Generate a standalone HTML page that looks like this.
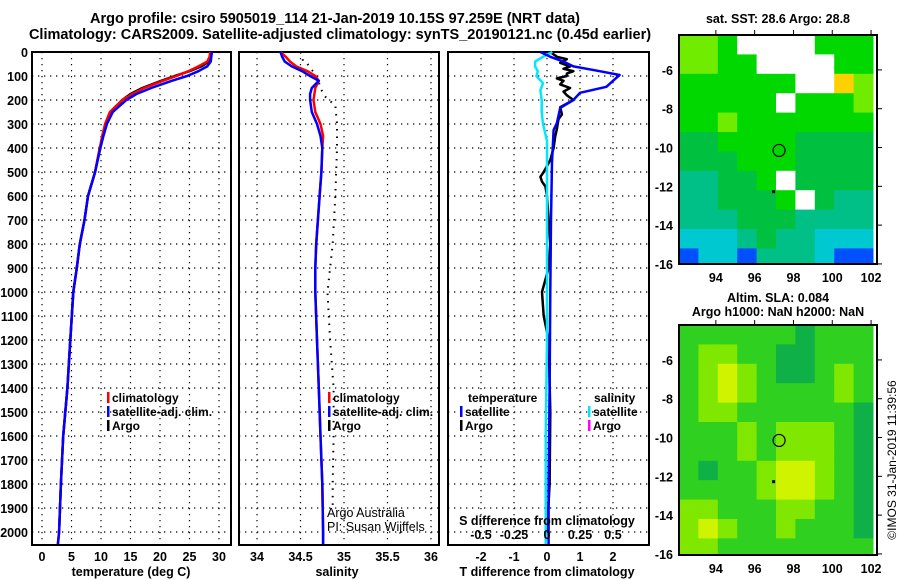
<!DOCTYPE html>
<html><head><meta charset="utf-8"><style>
html,body{margin:0;padding:0;background:#fff}
svg{display:block;font-family:"Liberation Sans",sans-serif;font-weight:bold}
</style></head><body>
<svg id="fig" width="900" height="580" viewBox="0 0 900 580" xmlns="http://www.w3.org/2000/svg">
<text x="335" y="23" text-anchor="middle" font-size="14.5">Argo profile: csiro 5905019_114 21-Jan-2019 10.15S 97.259E (NRT data)</text>
<text x="340" y="39" text-anchor="middle" font-size="14.5">Climatology: CARS2009. Satellite-adjusted climatology: synTS_20190121.nc (0.45d earlier)</text>
<g id="panels"></g>
<text x="778" y="23" text-anchor="middle" font-size="12.5">sat. SST: 28.6 Argo: 28.8</text>
<text x="778" y="302" text-anchor="middle" font-size="12.5">Altim. SLA: 0.084</text>
<text x="778" y="316" text-anchor="middle" font-size="12.5">Argo h1000: NaN h2000: NaN</text>
<text transform="translate(896,460) rotate(-90)" text-anchor="middle" font-size="12" font-weight="normal">©IMOS 31-Jan-2019 11:39:56</text>
</svg>
<script>
// ---- data ----
const depths = [0,20,40,60,80,100,120,150,175,200,250,300,350,400,500,600,700,800,900,1000,1200,1400,1600,1800,2000,2050];
const tempClim = [28.5,28.4,28.0,26.5,24.8,22.8,20.5,17.3,15.3,13.6,11.5,10.7,10.2,9.8,9.0,7.8,7.2,6.4,5.9,5.3,4.8,4.3,3.6,3.2,2.9,2.7];
const tempSat = [28.8,28.7,28.6,28.0,26.5,24.6,22.0,18.5,16.0,14.3,12.0,11.0,10.4,9.9,9.0,7.8,7.2,6.4,5.9,5.3,4.8,4.3,3.6,3.2,2.9,2.7];
const tempArgo = [28.5,28.5,28.3,27.0,25.0,22.5,20.2,17.0,15.0,13.6,11.8,10.8,10.3,9.8,9.0,7.8,7.2,6.4,5.9,5.3,4.8,4.3,3.6,3.2,2.9];
const salClim = [34.27,34.33,34.38,34.45,34.58,34.67,34.71,34.67,34.66,34.65,34.67,34.73,34.76,34.75,34.74,34.72,34.70,34.68,34.67,34.67,34.69,34.71,34.73,34.75,34.76,34.76];
const salSat = [34.27,34.29,34.32,34.40,34.52,34.61,34.71,34.63,34.61,34.61,34.63,34.69,34.73,34.75,34.74,34.72,34.70,34.68,34.67,34.67,34.69,34.71,34.73,34.75,34.76,34.76];
const argoSalDepths = [0,20,40,50,70,100,150,180,200,220,300,400,600,800,1000,1200,1400,1600,1800,1900];
const salArgo = [34.50,34.52,34.53,34.58,34.62,34.69,34.73,34.77,34.82,34.90,34.92,34.92,34.90,34.87,34.81,34.84,34.88,34.88,34.87,34.87];
const tDiffDepths = [0,20,40,60,80,96,120,145,170,200,233,296,325,460,700,1000,1400,1800,2050];
const tDiffSat = [-0.2,0.1,0.5,0.8,1.6,2.2,2.0,1.8,1.0,0.8,0.4,0.3,0.2,0.15,0.12,0.1,0.08,0.05,0.05];
const argoDiffDepths = [0,20,30,45,60,70,80,90,100,110,120,135,150,165,180,200,215,230,260,280,320,350,400,450,500,520,540,560,600,700,800,900,1000,1100,1200,1500,1800,2000];
const tDiffArgo = [0.1,0.3,0.6,0.4,0.7,0.5,0.8,0.6,0.6,0.3,0.5,0.4,0.7,0.5,0.6,0.8,0.6,0.4,0.45,0.35,0.3,0.25,0.2,0.1,-0.1,-0.2,-0.15,-0.05,0.0,0.05,0.1,0.05,-0.15,-0.1,0.05,0.1,0.08,0.0];
const sDiffDepths = [0,20,40,60,80,100,130,160,200,250,300,370,500,800,1200,1600,2050];
const sDiffSat = [0.04,-0.03,-0.09,-0.09,-0.07,-0.08,-0.03,-0.05,-0.04,-0.04,-0.03,0.0,0.0,0.0,0.0,-0.01,-0.01];
const tempTicks = [0,5,10,15,20,25,30];
const salTicks = [34,34.5,35,35.5,36];
const tdiffTicks = [-2,-1,0,1,2];
const sdiffTickLabels = ["-0.5","-0.25","0","0.25","0.5"];
const depthTicks = [0,100,200,300,400,500,600,700,800,900,1000,1100,1200,1300,1400,1500,1600,1700,1800,1900,2000];
const lonTicks = [94,96,98,100,102];
const latTicks = [-6,-8,-10,-12,-14,-16];
const sstGrid = [
[5,5,4,-1,-1,-1,-1,4,4,4],
[5,5,4,4,-1,-1,-1,-1,4,4],
[4,4,4,4,4,4,-1,-1,7,5],
[4,4,4,4,4,-1,4,4,4,5],
[4,4,5,4,4,4,4,4,4,4],
[3,3,4,4,4,4,3,3,3,3],
[3,3,3,4,4,4,3,3,3,3],
[2,2,3,3,4,-1,3,3,3,3],
[2,2,3,3,3,4,-1,3,2,2],
[2,2,2,3,3,3,2,2,2,2],
[1,1,1,2,3,2,2,1,1,1],
[0,1,1,0,2,2,2,1,0,0]];
const slaGrid = [
[1,1,1,1,1,1,0,1,1,1],
[1,2,2,1,1,0,0,1,1,1],
[1,2,3,2,1,0,0,1,2,1],
[1,2,3,2,1,1,1,1,2,1],
[1,2,2,1,1,1,1,1,1,0],
[1,1,1,2,1,2,2,2,1,0],
[1,1,1,2,1,2,2,2,1,0],
[1,0,1,1,2,3,3,2,1,0],
[1,1,1,1,2,3,3,2,1,0],
[2,2,1,1,1,2,2,1,1,0],
[2,3,2,1,1,2,1,1,1,0],
[2,2,1,1,1,1,1,1,1,1]];
const sstColors = ["#0050ff","#00c8d0","#00c088","#00c040","#00d800","#70ec00","#c8f000","#ffd000"];
const slaColors = ["#10b048","#30d020","#80e800","#d0f400"];

// ---- helpers ----
const NS = "http://www.w3.org/2000/svg";
const root = document.getElementById('panels');
function mk(tag, attrs, parent){const e=document.createElementNS(NS,tag);for(const k in attrs)e.setAttribute(k,attrs[k]);(parent||root).appendChild(e);return e;}
const TOP=52, BOT=545;
const yD = d => TOP + d*0.24;
const xT = t => 42 + t*(177/30);
const xS = s => 257 + (s-34)*87;
const xTD = v => 547 + v*33;
const xSD = v => 547 + v*132;

function panelFrame(x0,x1,name,gx){
  const g=mk('g',{});
  
  
  depthTicks.forEach(d=>{ if(d>0){const l=mk('line',{x1:x0,x2:x1,y1:yD(d),y2:yD(d),stroke:'#000','stroke-width':1.2,'stroke-dasharray':'1.3 4.7'},g);
    
    }});
  gx.forEach(x=>{const l=mk('line',{x1:x,x2:x,y1:TOP,y2:BOT,stroke:'#000','stroke-width':1.2,'stroke-dasharray':'1.3 4.7'},g);
    
    });
  const r=mk('rect',{x:x0,y:TOP,width:x1-x0,height:BOT-TOP,fill:'none',stroke:'#000','stroke-width':2},g);
  
  
  return g;
}
function line(xs,ds,xf,color,w,name,dash){
  const p=mk('polyline',{points:xs.map((v,i)=>xf(v).toFixed(1)+','+yD(ds[i]).toFixed(1)).join(' '),fill:'none',stroke:color,'stroke-width':w,'stroke-dasharray':dash||'none','stroke-linejoin':'round'});
  
  
}
function txt(x,y,s,opt){const t=mk('text',Object.assign({x:x,y:y,'font-size':12.5},opt||{}));t.textContent=s;return t;}

depthTicks.forEach(d=>{const t=txt(28,yD(d)+5,String(d),{'text-anchor':'end'});
  
  });

panelFrame(32,231,'temperature-panel',tempTicks.map(xT));
line(tempArgo,depths.slice(0,tempArgo.length),xT,'#000',2.5,'argo-temperature-line');
line(tempClim,depths,xT,'#f00',2.5,'climatology-temperature-line');
line(tempSat,depths,xT,'#0000ff',2.5,'satellite-temperature-line');
tempTicks.forEach(v=>{const t=txt(xT(v),561,String(v),{'text-anchor':'middle'});
  
  });
let t1=txt(131,576,'temperature (deg C)',{'text-anchor':'middle'});



panelFrame(239,439,'salinity-panel',salTicks.map(xS));
line(salArgo,argoSalDepths,xS,'#000',2,'argo-salinity-line','1.5 6');
line(salClim,depths,xS,'#f00',2.5,'climatology-salinity-line');
line(salSat,depths,xS,'#0000ff',2.5,'satellite-salinity-line');
salTicks.forEach(v=>{const t=txt(xS(v),561,String(v),{'text-anchor':'middle'});
  
  });
let t2=txt(337,576,'salinity',{'text-anchor':'middle'});



panelFrame(448,649,'difference-panel',tdiffTicks.map(xTD));
line(tDiffArgo,argoDiffDepths,xTD,'#000',2.5,'argo-temperature-difference-line');
line(sDiffSat,sDiffDepths,xSD,'#00e8ff',2.5,'satellite-salinity-difference-line');
line(tDiffSat,tDiffDepths,xTD,'#0000ff',2.5,'satellite-temperature-difference-line');
tdiffTicks.forEach(v=>{const t=txt(xTD(v),561,String(v),{'text-anchor':'middle'});
  
  });
let t3=txt(547,576,'T difference from climatology',{'text-anchor':'middle'});


let t4=txt(547,525,'S difference from climatology',{'text-anchor':'middle'});


sdiffTickLabels.forEach((s,i)=>{const t=txt(xSD(parseFloat(s)),539,s,{'text-anchor':'middle'});
  
  });

function legend(x,y,color,label,name){
  const r=mk('rect',{x:x,y:y-10,width:2.5,height:11,fill:color});
  
  
  const t=txt(x+5,y,label,{'font-size':12});
  
  
}
legend(107,402,'#f00','climatology','legend-climatology');
legend(107,416,'#0000ff','satellite-adj. clim.','legend-satellite-adj');
legend(107,430,'#000','Argo','legend-argo');
legend(328,402,'#f00','climatology','legend-climatology-salinity');
legend(328,416,'#0000ff','satellite-adj. clim.','legend-satellite-adj-salinity');
legend(328,430,'#000','Argo','legend-argo-salinity');
let lt=txt(468,402,'temperature',{'font-size':12});


legend(460,416,'#0000ff','satellite','legend-t-satellite');
legend(460,430,'#000','Argo','legend-t-argo');
let ls=txt(594,402,'salinity',{'font-size':12});


legend(588,416,'#00e8ff','satellite','legend-s-satellite');
legend(588,430,'#ff00ff','Argo','legend-s-argo');
let c1=txt(327,517,'Argo Australia',{'font-weight':'normal','font-size':12.5});


let c2=txt(327,531,'PI: Susan Wijffels',{'font-weight':'normal','font-size':12.5});



const MX0=679, MX1=877, LON0=92.1, PXD=19.4;
const xL = lon => MX0 + (lon-LON0)*PXD;
function map(top,bottom,grid,colors,name){
  const yL = lat => top + (-4.2 - lat)*PXD;
  const g=mk('g',{});
  
  
  grid.forEach((row,r)=>row.forEach((v,c)=>{
    const y0=yL(-4.2-r), y1=Math.min(yL(-5.2-r),bottom), x0=xL(LON0+c), x1=Math.min(xL(LON0+c+1),MX1);
    const cell=mk('rect',{x:x0,y:y0,width:x1-x0+0.5,height:Math.max(0,y1-y0+0.5),fill:v<0?'#fff':colors[v]},g);
    
    
  }));
  const fr=mk('rect',{x:MX0,y:top,width:MX1-MX0,height:bottom-top,fill:'none',stroke:'#000','stroke-width':2},g);
  
  
  latTicks.forEach(lat=>{
    const l=mk('line',{x1:MX1,x2:MX1+5,y1:yL(lat),y2:yL(lat),stroke:'#000'},g);
    
    
    const t=txt(673,yL(lat)+5,String(lat),{'text-anchor':'end'});
    
    
  });
  lonTicks.forEach(lon=>{
    const l=mk('line',{x1:xL(lon),x2:xL(lon),y1:top,y2:top-5,stroke:'#000'},g);
    
    
    const t=txt(xL(lon),bottom+18,String(lon),{'text-anchor':'middle'});
    
    
  });
  const c=mk('circle',{cx:xL(97.26),cy:yL(-10.15),r:6,fill:'none',stroke:'#000','stroke-width':1.2},g);
  
  
  const d=mk('rect',{x:xL(96.9),y:yL(-12.2),width:3,height:3,fill:'#000'},g);
  
  
}
map(35,264,sstGrid,sstColors,'sst-map');
map(325,555,slaGrid,slaColors,'sla-map');
</script>
</body></html>
